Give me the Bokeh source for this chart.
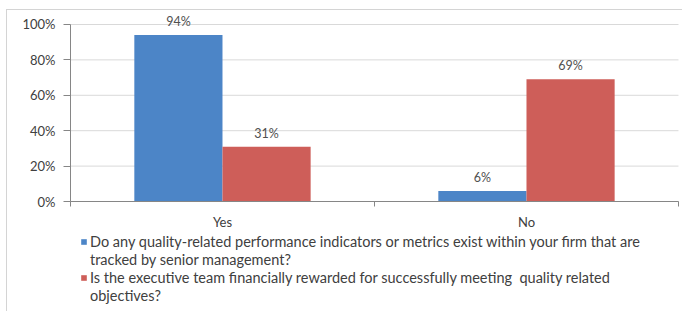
from bokeh.plotting import figure
from bokeh.models import ColumnDataSource, Range1d, LabelSet, Legend, LegendItem, NumeralTickFormatter, FixedTicker
from bokeh.core.properties import value
from bokeh.transform import dodge
from bokeh.embed import file_html
from bokeh.resources import INLINE

categories = ["Yes", "No"]
series1_lines = ["Do any quality-related performance indicators or metrics exist within your firm that are",
                 "tracked by senior management?"]
series2_lines = ["Is the executive team financially rewarded for successfully meeting  quality related",
                 "objectives?"]
series1 = [0.94, 0.06]
series2 = [0.31, 0.69]
series1_labels = ["94%", "6%"]
series2_labels = ["31%", "69%"]
y_ticks = [0, 0.2, 0.4, 0.6, 0.8, 1.0]

FONT = "Lato"
BLUE = "#4C85C7"
RED = "#CE5E59"
TXT = "#404040"

n = len(categories)
xpos = [i + 0.5 for i in range(n)]
src = ColumnDataSource(dict(x=xpos, s1=series1, s2=series2, l1=series1_labels, l2=series2_labels))

p = figure(x_range=Range1d(-0.2072, 2.0165), y_range=Range1d(-0.627, 1.079),
           width=676, height=302, output_backend="svg", toolbar_location=None,
           min_border_left=0, min_border_right=0, min_border_top=0, min_border_bottom=0)
p.styles = {"border-left": "1px solid #d4d4d4", "border-top": "1px solid #d4d4d4",
            "margin-left": "6px", "margin-top": "9px"}
p.outline_line_color = None
p.grid.visible = False

# horizontal gridlines spanning the category area
p.segment(x0=0, x1=n, y0=y_ticks, y1=y_ticks, line_color="#d9d9d9", line_width=1)

r1 = p.vbar(x=dodge("x", -0.145), top="s1", width=0.29, source=src,
            fill_color=BLUE, line_color=None)
r2 = p.vbar(x=dodge("x", 0.145), top="s2", width=0.29, source=src,
            fill_color=RED, line_color=None)

for col, lab, off in (("s1", "l1", -0.145), ("s2", "l2", 0.145)):
    p.add_layout(LabelSet(x=dodge("x", off), y=col, text=lab, source=src,
                          text_align="center", text_baseline="bottom", y_offset=6,
                          text_font=value(FONT), text_font_size="12.5px", text_color="#505050"))

p.yaxis.fixed_location = 0
p.yaxis.ticker = FixedTicker(ticks=y_ticks)
p.yaxis.bounds = (0, 1)
p.yaxis.formatter = NumeralTickFormatter(format="0%")
p.yaxis.major_label_text_font = FONT
p.yaxis.major_label_text_font_size = "13px"
p.yaxis.major_label_text_color = TXT
p.yaxis.axis_line_color = "#868686"
p.yaxis.major_tick_line_color = "#868686"
p.yaxis.major_tick_out = 7
p.yaxis.major_tick_in = 0
p.yaxis.minor_tick_line_color = None
p.yaxis.major_label_standoff = 8

p.xaxis.fixed_location = 0
p.xaxis.bounds = (0, n)
p.xaxis.ticker = FixedTicker(ticks=xpos, minor_ticks=list(range(n + 1)))
p.xaxis.major_label_overrides = {x: c for x, c in zip(xpos, categories)}
p.xaxis.major_label_text_font = FONT
p.xaxis.major_label_text_font_size = "13px"
p.xaxis.major_label_text_color = TXT
p.xaxis.axis_line_color = "#868686"
p.xaxis.major_tick_line_color = None
p.xaxis.major_tick_out = 0
p.xaxis.minor_tick_line_color = "#868686"
p.xaxis.minor_tick_out = 5
p.xaxis.minor_tick_in = 0
p.xaxis.major_label_standoff = 7

items = [LegendItem(label=series1_lines[0], renderers=[r1]),
         LegendItem(label=series1_lines[1], renderers=[]),
         LegendItem(label=series2_lines[0], renderers=[r2]),
         LegendItem(label=series2_lines[1], renderers=[])]
legend = Legend(items=items, location=(73, 8), orientation="vertical",
                label_text_font=FONT, label_text_font_size="14.5px", label_text_color=TXT,
                label_height=18, glyph_width=7, glyph_height=7, label_standoff=3,
                padding=0, margin=0, spacing=0, border_line_color=None, background_fill_alpha=0)
p.add_layout(legend, "center")

open("out.html", "w").write(file_html(p, INLINE))
